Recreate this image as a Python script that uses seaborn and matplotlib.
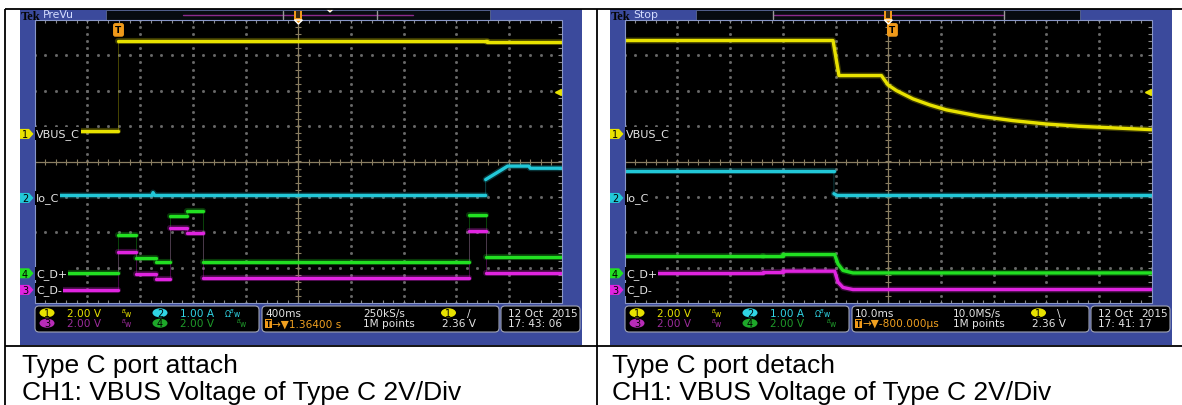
"""
Two oscilloscope captures (Type C attach / detach) laid out in a table.
"""

import matplotlib
matplotlib.use("Agg")
import matplotlib.pyplot as plt
from matplotlib.patches import Rectangle, FancyBboxPatch, Ellipse, Polygon
import numpy as np
import pandas as pd
import seaborn as sns

W, H = 1182, 406

# channel setup
CH_POS = {"1": 0.78, "2": -1.03, "3": -3.63, "4": -3.16}   # divisions
CH_SCALE = {"1": 2.0, "2": 1.0, "3": 2.0, "4": 2.0}       # V/div, A/div
CH_LABEL = {"1": "VBUS_C", "2": "Io_C", "3": "C_D-", "4": "C_D+"}
CH_COLOR = {"1": "#e8e200", "2": "#22c8d8", "3": "#e024e0", "4": "#22e022"}
TRIG_LEVEL = 2.36  # V

# attach capture: 400 ms/div, screen centre 1.364 s after trigger
ATTACH_TDIV = 0.4
ATTACH_CENTER = 1.364
ATTACH_VBUS_EDGES = [0.0, 2.80]
ATTACH_VBUS = [0.18, 5.28, 5.19]
ATTACH_IO_T = [-0.636, 0.255, 0.262, 0.275, 2.787, 2.787, 2.954, 3.114, 3.125, 3.364]
ATTACH_IO = [0.07, 0.07, 0.15, 0.07, 0.07, 0.52, 0.90, 0.90, 0.84, 0.84]
ATTACH_D_EDGES = [0.0, 0.136, 0.282, 0.389, 0.520, 0.641, 2.660, 2.787]
ATTACH_DPLUS = [0.02, 2.14, 0.88, 0.64, 3.22, 3.52, 0.64, 3.32, 0.94]
ATTACH_DMINUS = [0.02, 2.16, 0.88, 0.62, 3.50, 3.24, 0.66, 3.32, 0.94]

# detach capture: 10 ms/div, screen centre 0.8 ms before trigger
DETACH_TDIV = 10.0
DETACH_CENTER = -0.8
DETACH_VBUS_T = [-50.8, -11.27, -10.14, -2.09, -0.84, 0.76, 3.91, 7.07, 10.24,
                 16.56, 22.9, 29.2, 35.5, 41.9, 49.2]
DETACH_VBUS = [5.28, 5.28, 3.30, 3.30, 2.77, 2.45, 1.98, 1.64, 1.36,
               1.00, 0.75, 0.56, 0.43, 0.34, 0.24]
DETACH_IO_T = [-50.8, -11.1, -11.1, -10.5, 49.2]
DETACH_IO = [0.77, 0.77, 0.12, 0.07, 0.07]
DETACH_D_T = [-50.8, -24.6, -24.6, -20.8, -20.8, -10.96, -10.33, -9.38, -7.48, 49.2]
DETACH_DPLUS = [0.95, 0.95, 1.00, 1.00, 1.06, 1.06, 0.53, 0.16, 0.02, 0.02]
DETACH_DMINUS = [0.95, 0.95, 1.00, 1.00, 1.06, 1.06, 0.44, 0.14, 0.02, 0.02]

CAPTIONS = ["Type C port attach", "Type C port detach"]
CAPTION_2 = "CH1: VBUS Voltage of Type C 2V/Div"

SCOPE_FONT = ["Liberation Sans Narrow", "DejaVu Sans"]
BLUE = "#3b4a9c"


def steps(edges, levels, t0, t1):
    bounds = [t0] + list(edges) + [t1]
    t, v = [], []
    for i, lvl in enumerate(levels):
        t += [bounds[i], bounds[i + 1]]
        v += [lvl, lvl]
    return t, v


def to_frame(t, v, ch, tdiv, center):
    t = np.asarray(t, float)
    v = np.asarray(v, float)
    seg = np.concatenate([[0], np.cumsum(np.diff(t) == 0)])
    return pd.DataFrame({"x": (t - center) / tdiv,
                         "y": CH_POS[ch] + v / CH_SCALE[ch],
                         "seg": seg})


def draw_trace(ax, df, color):
    # thin faint line for fast edges, bright thick line for the levels
    ax.plot(df.x, df.y, color=color, lw=0.6, alpha=0.35, zorder=3)
    sns.lineplot(data=df, x="x", y="y", units="seg", estimator=None, sort=False,
                 color=color, lw=4.4, alpha=0.25, ax=ax, legend=False, zorder=3)
    sns.lineplot(data=df, x="x", y="y", units="seg", estimator=None, sort=False,
                 color=color, lw=2.4, ax=ax, legend=False, zorder=4)


def draw_screen(ax):
    ax.set_facecolor("black")
    ax.set_xlim(-5, 5)
    ax.set_ylim(-4, 4)
    ax.set_xticks([])
    ax.set_yticks([])
    for s in ax.spines.values():
        s.set_visible(False)
    ys = np.arange(-4, 4.01, 0.2)
    xs = np.arange(-5, 5.01, 0.2)
    for k in range(-4, 5):
        if k != 0:
            ax.plot(np.full_like(ys, k), ys, ls="none", marker="s", ms=1.0,
                    color="#6a6a6a", zorder=1)
    for k in range(-3, 4):
        if k != 0:
            ax.plot(xs, np.full_like(xs, k), ls="none", marker="s", ms=1.0,
                    color="#6a6a6a", zorder=1)
    ax.axhline(0, color="#8a7e62", lw=0.9, zorder=1)
    ax.axvline(0, color="#8a7e62", lw=0.9, zorder=1)
    ax.plot(xs, np.zeros_like(xs), ls="none", marker="|", ms=4, mew=0.8,
            color="#8a7e62", zorder=1)
    ax.plot(np.zeros_like(ys), ys, ls="none", marker="_", ms=4, mew=0.8,
            color="#8a7e62", zorder=1)
    ax.plot(xs, np.full_like(xs, 3.97), ls="none", marker="|", ms=3, mew=0.8,
            color="#8a8a8a", zorder=1)
    ax.plot(xs, np.full_like(xs, -3.97), ls="none", marker="|", ms=3, mew=0.8,
            color="#8a8a8a", zorder=1)
    ax.plot(np.full_like(ys, 4.97), ys, ls="none", marker="_", ms=3, mew=0.8,
            color="#8a8a8a", zorder=1)


def scope_text(ax, x, y, s, color, size=7.6, ha="left", **kw):
    ax.text(x, y, s, color=color, fontsize=size, ha=ha, va="center",
            family=SCOPE_FONT, **kw)


def oval(ax, x, y, digit, color):
    ax.add_patch(Ellipse((x, y), 15, 9, fc=color, ec="none"))
    ax.text(x, y + 0.3, digit, color="black", fontsize=7, ha="center",
            va="center", family=SCOPE_FONT)


fig = plt.figure(figsize=(W / 100, H / 100), dpi=100)
sns.set_style("white")

bg = fig.add_axes([0, 0, 1, 1], zorder=0)
bg.set_xlim(0, W)
bg.set_ylim(H, 0)
bg.axis("off")

panels = [
    dict(dx=0, mode="PreVu", tb="400ms", delay="1.36400 s", rate="250kS/s",
         slope="/", clock="17: 43: 06", tdiv=ATTACH_TDIV, center=ATTACH_CENTER,
         brackets=(283, 377)),
    dict(dx=590, mode="Stop", tb="10.0ms", delay="-800.000µs", rate="10.0MS/s",
         slope="\\", clock="17: 41: 17", tdiv=DETACH_TDIV, center=DETACH_CENTER,
         brackets=(183, 414)),
]

traces = []
t0, t1 = ATTACH_CENTER - 5 * ATTACH_TDIV, ATTACH_CENTER + 5 * ATTACH_TDIV
traces.append([
    ("1", steps(ATTACH_VBUS_EDGES, ATTACH_VBUS, t0, t1)),
    ("2", (ATTACH_IO_T, ATTACH_IO)),
    ("4", steps(ATTACH_D_EDGES, ATTACH_DPLUS, t0, t1)),
    ("3", steps(ATTACH_D_EDGES, ATTACH_DMINUS, t0, t1)),
])
traces.append([
    ("1", (DETACH_VBUS_T, DETACH_VBUS)),
    ("2", (DETACH_IO_T, DETACH_IO)),
    ("4", (DETACH_D_T, DETACH_DPLUS)),
    ("3", (DETACH_D_T, DETACH_DMINUS)),
])

gx0, gx1, gy0, gy1 = 34.7, 561.7, 21.0, 304.0
for p, tr in zip(panels, traces):
    dx = p["dx"]
    bg.add_patch(Rectangle((20 + dx, 10), 562, 336, fc=BLUE, ec="none"))
    bg.add_patch(Rectangle((106 + dx, 11), 384, 10, fc="#070b10",
                           ec="#5a6894", lw=0.6))
    bg.plot([183 + dx, 413 + dx], [15.5, 15.5], color="#8c2a8c", lw=1.0)
    for b in p["brackets"]:
        bg.plot([b + dx, b + dx], [12, 20], color="#9a9a9a", lw=1.0)

    ax = fig.add_axes([(gx0 + dx) / W, 1 - gy1 / H, (gx1 - gx0) / W,
                       (gy1 - gy0) / H], zorder=1)
    draw_screen(ax)
    for ch, (t, v) in tr:
        draw_trace(ax, to_frame(t, v, ch, p["tdiv"], p["center"]), CH_COLOR[ch])
    ax.set_xlabel("")
    ax.set_ylabel("")
    # trigger point and trigger level
    xt = (0 - p["center"]) / p["tdiv"]
    ax.text(xt, 3.72, "T", color="black", fontsize=6.5, fontweight="bold",
            ha="center", va="center", zorder=6,
            bbox=dict(boxstyle="round,pad=0.18", fc="#f09a1a", ec="#f09a1a"))
    ax.plot([4.93], [CH_POS["1"] + TRIG_LEVEL / CH_SCALE["1"]], marker="<",
            ms=5, color=CH_COLOR["1"], clip_on=False, zorder=6)

ov = fig.add_axes([0, 0, 1, 1], zorder=3)
ov.set_xlim(0, W)
ov.set_ylim(H, 0)
ov.axis("off")
ov.patch.set_alpha(0)

for p in panels:
    dx = p["dx"]
    ov.text(20.5 + dx, 20.5, "Tek", fontsize=9, fontweight="bold",
            color="#050505", va="baseline",
            family=["Liberation Serif", "DejaVu Serif"])
    ov.text(43 + dx, 15.5, p["mode"], fontsize=7.8, color="#d4dcff",
            va="center", family=SCOPE_FONT)
    ov.add_patch(Rectangle((gx0 + dx, gy0), gx1 - gx0, gy1 - gy0, fc="none",
                           ec="#8896c8", lw=0.8))
    # trigger position marker in the header
    cx = 298.4 + dx
    ov.add_patch(Rectangle((cx - 4, 12), 8, 9, fc="#f09a1a", ec="none"))
    ov.add_patch(Rectangle((cx - 2, 12), 4, 7, fc="#3a2a10", ec="none"))
    ov.add_patch(Polygon([[cx - 4, 21], [cx + 4, 21], [cx, 25]], fc="#f09a1a"))
    if dx == 0:
        ov.add_patch(Polygon([[327, 10], [333, 10], [330, 13]], fc="#f09a1a"))

    # channel markers and labels
    for ch in ["1", "2", "4", "3"]:
        y = gy0 + (4 - CH_POS[ch]) * (gy1 - gy0) / 8
        ov.add_patch(Polygon([[20 + dx, y - 5], [29 + dx, y - 5], [33.5 + dx, y],
                              [29 + dx, y + 5], [20 + dx, y + 5]],
                             fc=CH_COLOR[ch], ec="none"))
        ov.text(25 + dx, y + 0.5, ch, color="black", fontsize=7, ha="center",
                va="center", family=SCOPE_FONT)
        ov.text(36 + dx, y, CH_LABEL[ch], color="#e6e6e6", fontsize=8,
                va="center", family=SCOPE_FONT,
                bbox=dict(boxstyle="square,pad=0.1", fc="black", ec="none"))

    # readout boxes
    for x0, w in [(35, 224), (262, 237), (501, 79)]:
        ov.add_patch(FancyBboxPatch((x0 + dx, 307), w, 26,
                                    boxstyle="round,pad=0,rounding_size=4",
                                    fc="black", ec="#a0a4b4", lw=0.8))
    r1, r2 = 313.8, 324.2
    oval(ov, 47 + dx, r1, "1", CH_COLOR["1"])
    scope_text(ov, 67 + dx, r1, "2.00 V", CH_COLOR["1"])
    scope_text(ov, 121 + dx, r1, "$^{B}$w", CH_COLOR["1"], size=5.5)
    oval(ov, 160 + dx, r1, "2", "#30d4e4")
    scope_text(ov, 180 + dx, r1, "1.00 A", "#30d4e4")
    scope_text(ov, 224 + dx, r1, "Ω$^{B}$w", "#30d4e4", size=5.5)
    oval(ov, 47 + dx, r2, "3", "#b82cb8")
    scope_text(ov, 67 + dx, r2, "2.00 V", "#9c2c9c")
    scope_text(ov, 121 + dx, r2, "$^{B}$w", "#9c2c9c", size=5.5)
    oval(ov, 160 + dx, r2, "4", "#1ea82a")
    scope_text(ov, 180 + dx, r2, "2.00 V", "#1e9a2a")
    scope_text(ov, 236 + dx, r2, "$^{B}$w", "#1e9a2a", size=5.5)

    scope_text(ov, 265 + dx, r1, p["tb"], "#e4e4e4")
    ov.add_patch(Rectangle((265 + dx, r2 - 4.5), 7, 9, fc="#f09a1a", ec="none"))
    ov.text(268.5 + dx, r2 + 0.4, "T", color="black", fontsize=5.5,
            ha="center", va="center", fontweight="bold", family=SCOPE_FONT)
    scope_text(ov, 272.5 + dx, r2, "→▼" + p["delay"], "#f0a020")
    scope_text(ov, 363 + dx, r1, p["rate"], "#e4e4e4")
    scope_text(ov, 363 + dx, r2, "1M points", "#e4e4e4")
    oval(ov, 448.5 + dx, r1, "1", CH_COLOR["1"])
    scope_text(ov, 467 + dx, r1, p["slope"], "#e4e4e4")
    scope_text(ov, 476 + dx, r2, "2.36 V", "#e4e4e4", ha="right")
    scope_text(ov, 508 + dx, r1, "12 Oct", "#e4e4e4")
    scope_text(ov, 578 + dx, r1, "2015", "#e4e4e4", ha="right")
    scope_text(ov, 508 + dx, r2, p["clock"], "#e4e4e4")

# table rules
for xs, ys in [([5, W], [9.5, 9.5]), ([5, W], [347, 347]),
               ([5, 5], [9.5, H]), ([596.7, 596.7], [9.5, H])]:
    ov.plot(xs, ys, color="black", lw=1.3, solid_capstyle="butt")

cap_font = ["Liberation Sans", "DejaVu Sans"]
for i, cap in enumerate(CAPTIONS):
    x = 22 + 590 * i
    ov.text(x, 373, cap, fontsize=19, color="black", va="baseline",
            family=cap_font)
    ov.text(x, 400, CAPTION_2, fontsize=19, color="black", va="baseline",
            family=cap_font)

fig.savefig("out.png", dpi=100, facecolor="white")
